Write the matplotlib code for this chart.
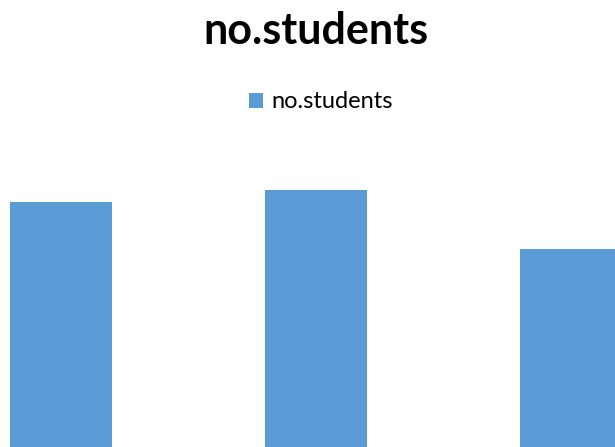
import matplotlib.pyplot as plt

plt.rcParams['font.family'] = ['Lato', 'DejaVu Sans']

categories = ['A', 'B', 'C']
students = [49, 51.4, 39.6]

fig = plt.figure(figsize=(6.15, 4.47), dpi=100)
ax = fig.add_axes([0, 0, 1, 317 / 447])

bars = ax.bar(range(len(categories)), students, width=0.4, color='#5B9BD5', label='no.students')

ax.set_xlim(-0.239, 2.173)
ax.set_ylim(0, 63.4)
ax.axis('off')

fig.text(0.513, 0.975, 'no.students', ha='center', va='top', fontsize=31, fontweight='bold', color='#000000')

fig.legend(handles=[bars], labels=['no.students'], loc='center', bbox_to_anchor=(0.522, 0.772),
           frameon=False, fontsize=17, handlelength=0.6, handleheight=0.6, handletextpad=0.35)

fig.savefig('out.png', dpi=100)
